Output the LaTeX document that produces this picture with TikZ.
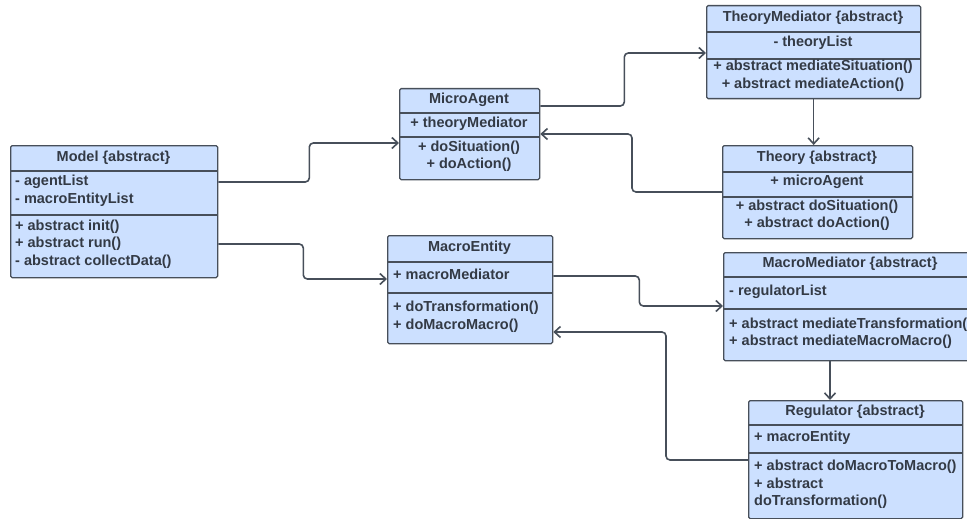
\documentclass[tikz,border=0pt]{standalone}
\usepackage{fontspec}
\setmainfont{Liberation Sans}
\usetikzlibrary{arrows.meta,calc}
\definecolor{boxfill}{HTML}{CCE0FF}
\definecolor{boxline}{HTML}{474F5A}
\definecolor{txt}{HTML}{333A45}
\definecolor{wire}{HTML}{474F5A}
\tikzset{
  classbox/.style={draw=boxline, fill=boxfill, line width=1.3pt, rounded corners=1.5pt, inner sep=0pt, anchor=north west},
  divider/.style={draw=boxline, line width=1.3pt},
  lbl/.style={font=\fontsize{14.5}{17}\selectfont\bfseries, text=txt, inner sep=0pt, text height=10.5pt, text depth=3pt},
  wireline/.style={draw=wire, line width=1.6pt, rounded corners=4pt, -{Straight Barb[length=6pt,width=11pt,line width=1.6pt]}}
}
% name, x1, y1, x2, div1, div2, y2
\newcommand\umlcls[7]{%
  \node[classbox, minimum width={(#4-#2)*1pt}, minimum height={(#7-#3)*1pt}] (#1) at (#2,#3) {};
  \draw[divider] (#2,#5) -- (#4,#5);
  \draw[divider] (#2,#6) -- (#4,#6);
}
\newcommand\tl[5]{\node[lbl, anchor=#1] (#2) at (#3,#4) {#5};}
\begin{document}
\begin{tikzpicture}[x=1pt,y=-1pt]
\useasboundingbox (0,0) rectangle (967,519);
\clip (0,0) rectangle (967,519);

% Model
\umlcls{model}{10}{145}{217}{171}{215}{277}
\tl{center}{model-t}{113.5}{158}{Model \{abstract\}}
\tl{west}{model-a1}{15}{182}{- agentList}
\tl{west}{model-a2}{15}{200}{- macroEntityList}
\tl{west}{model-m1}{15}{227}{+ abstract init()}
\tl{west}{model-m2}{15}{244}{+ abstract run()}
\tl{west}{model-m3}{15}{262}{- abstract collectData()}

% MicroAgent
\umlcls{micro}{399}{88}{539}{113}{137}{179}
\tl{center}{micro-t}{469}{100}{MicroAgent}
\tl{center}{micro-a1}{469}{124}{+ theoryMediator}
\tl{center}{micro-m1}{469}{148}{+ doSituation()}
\tl{center}{micro-m2}{469}{165}{+ doAction()}

% TheoryMediator
\umlcls{tmed}{706}{5}{920}{32}{59}{98}
\tl{center}{tmed-t}{813}{18}{TheoryMediator \{abstract\}}
\tl{center}{tmed-a1}{813}{43}{- theoryList}
\tl{center}{tmed-m1}{813}{67}{+ abstract mediateSituation()}
\tl{center}{tmed-m2}{813}{85}{+ abstract mediateAction()}

% Theory
\umlcls{theory}{722}{145}{912}{172}{197}{238}
\tl{center}{theory-t}{817}{158}{Theory \{abstract\}}
\tl{center}{theory-a1}{817}{182}{+ microAgent}
\tl{center}{theory-m1}{817}{207}{+ abstract doSituation()}
\tl{center}{theory-m2}{817}{224}{+ abstract doAction()}

% MacroEntity
\umlcls{macroent}{387}{235}{552}{262}{293}{343}
\tl{center}{macroent-t}{469.5}{248}{MacroEntity}
\tl{west}{macroent-a1}{393}{276}{+ macroMediator}
\tl{west}{macroent-m1}{393}{308}{+ doTransformation()}
\tl{west}{macroent-m2}{393}{326}{+ doMacroMacro()}

% MacroMediator
\umlcls{macromed}{723}{252}{977}{277}{309}{360}
\tl{center}{macromed-t}{850}{264}{MacroMediator \{abstract\}}
\tl{west}{macromed-a1}{729}{292}{- regulatorList}
\tl{west}{macromed-m1}{729}{325}{+ abstract mediateTransformation()}
\tl{west}{macromed-m2}{729}{342}{+ abstract mediateMacroMacro()}

% Regulator
\umlcls{regulator}{748}{400}{962}{425}{453}{518}
\tl{center}{regulator-t}{855}{412}{Regulator \{abstract\}}
\tl{west}{regulator-a1}{754}{438}{+ macroEntity}
\tl{west}{regulator-m1}{754}{467}{+ abstract doMacroToMacro()}
\tl{west}{regulator-m2}{754}{485}{+ abstract}
\tl{west}{regulator-m3}{754}{502}{doTransformation()}

% connectors
\draw[wireline] ($(model.north east)+(0,37)$) -- ++(91,0) |- ($(micro.north west)+(0,55)$);
\draw[wireline] ($(model.north east)+(0,99)$) -- ++(85,0) |- ($(macroent.north west)+(0,44)$);
\draw[wireline] ($(micro.north east)+(0,18)$) -- ++(84,0) |- ($(tmed.north west)+(0,48)$);
\draw[wireline] (tmed.south) -- (tmed.south |- theory.north);
\draw[wireline] ($(theory.north west)+(0,47)$) -- ++(-90,0) |- ($(micro.north east)+(0,46)$);
\draw[wireline] ($(macroent.north east)+(0,41)$) -- ++(86,0) |- ($(macromed.north west)+(0,54)$);
\coordinate (regin) at ($(regulator.north west)+(82,0)$);
\draw[wireline] (macromed.south -| regin) -- (regin);
\draw[wireline] ($(regulator.north west)+(0,60)$) -- ++(-82,0) |- ($(macroent.north east)+(0,97)$);
\end{tikzpicture}
\end{document}
